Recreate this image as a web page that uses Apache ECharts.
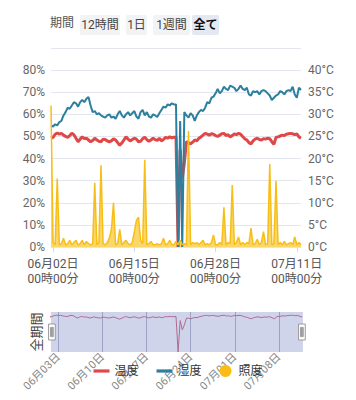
<!DOCTYPE html>
<html>
<head>
<meta charset="utf-8">
<script src="https://cdn.jsdelivr.net/npm/echarts@6/dist/echarts.min.js"></script>
<style>
html,body{margin:0;padding:0;background:#fff;}
#chart{width:356px;height:400px;}
</style>
</head>
<body>
<div id="chart"></div>
<script>
// ---- data (8-hour samples starting 2023-06-01 16:00) ----
const startTime = Date.UTC(2023, 5, 1, 16, 0, 0);
const stepHours = 8;
const axisStart = Date.UTC(2023, 5, 1, 16, 0, 0);
const axisEnd = Date.UTC(2023, 6, 11, 16, 0, 0);

const temperature = [
  24.6,24.8,25.5,25.8,25.5,25.7,25.3,25.0,24.8,25.2,
  25.7,25.4,24.6,23.8,24.4,24.9,24.5,24.6,24.2,23.8,
  24.1,24.6,24.2,23.9,23.8,24.4,24.3,24.0,23.8,24.0,
  24.5,24.2,23.6,23.0,23.5,24.2,24.9,24.4,24.0,24.3,
  24.6,24.4,23.8,23.9,24.5,24.8,24.3,23.9,24.2,24.6,
  24.3,24.1,24.6,24.0,24.3,24.8,24.6,24.9,24.7,24.8,
  24.8,0,22.0,15.5,19.0,23.8,23.6,23.3,23.7,24.2,
  24.0,24.6,24.9,25.3,25.7,25.5,25.3,25.6,25.5,25.2,
  25.0,25.3,25.6,25.7,25.2,25.4,24.9,25.2,25.6,25.4,
  25.7,25.5,25.0,24.5,24.2,23.6,23.3,24.0,24.4,24.6,
  24.3,24.2,24.5,24.4,24.6,24.5,23.8,23.2,24.8,24.9,
  25.1,25.3,25.2,25.5,25.6,25.7,25.6,25.4,25.6,24.9,
  24.6
];
const humidity = [
  55,54.5,55.5,55,56.5,57,59.5,61,63,62.5,
  64,65.5,65,63.5,65.5,66.5,65.5,67,67.8,64,
  61,61.5,60,60.5,59.5,59,58.5,59.5,60,58.5,
  59,58,60,61.5,59.5,58.5,60,61,59.5,60.5,
  61.5,59,58,61,62,59.5,61,59,58.5,60,
  59.5,58.8,60.5,62,63.5,63,64.5,64,65,64.5,
  64.5,0,57,0,61,59.5,58.5,60.5,59.5,57,
  59.5,61,62,61.5,63,65.5,65,67.5,68,69.5,
  71.5,69.5,70.5,72.5,71.5,71,73,72.5,72,70.5,
  71.5,73,71.5,71,72,69,68.5,70.5,70,70.5,
  69,70.5,71,70.5,69.5,68.5,66.5,67.5,68.5,69,
  70.5,70,69,70.5,71,70.5,72.5,69,67.5,72,
  71
];
const illuminance = [
  64,2,1,31,1,1.5,4,1,1.5,3,
  1,2,3,1,1.5,3,1,2.5,1.5,1,
  1.5,29,1,2,37,1.5,1,2,4,8,
  20,1,1.5,8,1,2,3,1.5,1,2,
  7,12,13.5,3,1.5,39.5,1,1.5,2.5,1,
  1,1.5,1,1.5,4,1,1.5,3,1,1,
  2.5,1,3,1,1.5,1,52.5,1,2,1.5,
  2,1,2,3,1,1.5,1,2,5.5,1,
  1,2,1,18,1,2,1.5,28,1,2,
  4.5,1,2,1,2,1.5,8.5,1,1.5,3.5,
  1,2,7,1,1.5,37.5,1,1.5,30,1,
  2,1,2.5,1,1.5,2,1,4.5,1,2,
  1
];
const mainTickDates = [Date.UTC(2023,5,2), Date.UTC(2023,5,15), Date.UTC(2023,5,28), Date.UTC(2023,6,11)];
const sliderTickDates = [Date.UTC(2023,5,3), Date.UTC(2023,5,10), Date.UTC(2023,5,17), Date.UTC(2023,5,24), Date.UTC(2023,6,1), Date.UTC(2023,6,8)];
const legendNames = ['温度', '湿度', '照度'];
const rangeButtons = ['12時間', '1日', '1週間', '全て'];

// ---- build ----
function pairs(arr){ return arr.map((v,i)=>[startTime + i*stepHours*3600*1000, v]); }
function pad(n){ return (n<10?'0':'')+n; }
function fmtMain(v){ const d=new Date(v); return pad(d.getUTCMonth()+1)+'月'+pad(d.getUTCDate())+'日\n'+pad(d.getUTCHours())+'時'+pad(d.getUTCMinutes())+'分'; }
function fmtDay(v){ const d=new Date(v); return pad(d.getUTCMonth()+1)+'月'+pad(d.getUTCDate())+'日'; }

const FONT = "Roboto, 'Noto Sans CJK JP', sans-serif";
const chart = echarts.init(document.getElementById('chart'), null, {renderer:'svg'});

const btnGeom = [[80,40],[126,21],[153,37],[192,27]];
const graphics = [{type:'text', left:50, top:17, style:{text:'期間', fill:'#555', font:'12px '+FONT}}];
rangeButtons.forEach((t,i)=>{
  const [x,w] = btnGeom[i];
  const active = i===rangeButtons.length-1;
  graphics.push({type:'rect', shape:{x:x,y:15,width:w,height:20,r:2}, style:{fill: active?'#e3e8f2':'#f2f3f5'}});
  graphics.push({type:'text', x:x+w/2, y:25, style:{text:t, fill: active?'#111':'#444', font:(active?'bold ':'')+'12px '+FONT, align:'center', verticalAlign:'middle'}});
});

const LINE_ICON = 'path://M0,0L20,0L20,4L0,4Z';

const option = {
  animation:false,
  textStyle:{fontFamily:FONT},
  graphic: graphics,
  legend:{
    bottom:18, left:'center', itemGap:18, itemWidth:16, itemHeight:12,
    symbolKeepAspect:true,
    textStyle:{fontSize:12, color:'#333'},
    data:[{name:legendNames[0], icon:LINE_ICON},{name:legendNames[1], icon:LINE_ICON},{name:legendNames[2], icon:'circle'}]
  },
  grid:[
    {left:51, right:55, top:48, bottom:153, outerBoundsMode:'none'},
    {left:50, right:54, top:312, height:40, outerBoundsMode:'none'}
  ],
  xAxis:[
    {type:'value', gridIndex:0, min:axisStart, max:axisEnd, scale:true,
     axisLine:{show:true, lineStyle:{color:'#e0e6f1'}},
     axisTick:{show:true, length:5, lineStyle:{color:'#d3dae8'}, customValues:mainTickDates},
     splitLine:{show:false},
     axisLabel:{customValues:mainTickDates, formatter:fmtMain, color:'#555', fontSize:12, lineHeight:15, margin:9, hideOverlap:false}},
    {type:'value', gridIndex:1, min:axisStart, max:axisEnd, scale:true,
     axisLine:{show:false}, axisTick:{show:false, customValues:sliderTickDates},
     splitLine:{show:true, lineStyle:{color:'#9ea4ba', width:1}, customValues:sliderTickDates},
     axisLabel:{customValues:sliderTickDates, formatter:fmtDay, rotate:45, color:'#888', fontSize:11, margin:3, hideOverlap:false}}
  ],
  yAxis:[
    {type:'value', gridIndex:0, min:0, max:90, interval:10,
     axisLabel:{formatter:'{value}%', color:'#666', fontSize:12, margin:6, showMaxLabel:false},
     splitLine:{lineStyle:{color:'#e3e6ee'}}, axisLine:{show:false}, axisTick:{show:false}},
    {type:'value', gridIndex:0, min:0, max:45, interval:5, position:'right',
     axisLabel:{formatter:'{value}°C', color:'#666', fontSize:12, margin:7, showMaxLabel:false},
     splitLine:{show:false}, axisLine:{show:false}, axisTick:{show:false}},
    {type:'value', gridIndex:1, min:0, max:28,
     name:'全期間', nameLocation:'middle', nameRotate:90, nameGap:7,
     nameTextStyle:{fontSize:13, color:'#444'},
     axisLabel:{show:false}, splitLine:{show:false}, axisLine:{show:false}, axisTick:{show:false}}
  ],
  dataZoom:[{
    type:'slider', xAxisIndex:[0], filterMode:'none', start:0, end:100,
    left:50, right:54, top:312, height:40,
    showDetail:false, showDataShadow:false, brushSelect:false,
    backgroundColor:'rgba(0,0,0,0)', borderColor:'rgba(0,0,0,0)',
    fillerColor:'rgba(150,160,210,0.45)',
    handleIcon:'path://M0,0L10,0L10,24L0,24Z M3,5L3,19L4.5,19L4.5,5Z M5.5,5L5.5,19L7,19L7,5Z',
    handleSize:16,
    handleStyle:{color:'#fff', borderColor:'#999', borderWidth:1},
    emphasis:{handleStyle:{color:'#fff', borderColor:'#999'}}
  }],
  series:[
    {name:legendNames[0], type:'line', xAxisIndex:0, yAxisIndex:1, data:pairs(temperature),
     symbol:'none', lineStyle:{width:3, color:'#e04848'}, itemStyle:{color:'#e04848'}},
    {name:legendNames[1], type:'line', xAxisIndex:0, yAxisIndex:0, data:pairs(humidity),
     symbol:'none', lineStyle:{width:2, color:'#2c7f9f'}, itemStyle:{color:'#2c7f9f'}},
    {name:legendNames[2], type:'line', xAxisIndex:0, yAxisIndex:0, data:pairs(illuminance),
     symbol:'circle', showSymbol:false, lineStyle:{width:1.5, color:'#f7be18'}, itemStyle:{color:'#fbbd14'},
     areaStyle:{color:'#f9c93a', opacity:0.75}},
    {name:'全期間温度', type:'line', xAxisIndex:1, yAxisIndex:2, data:pairs(temperature),
     symbol:'none', lineStyle:{width:1, color:'#c0405a'}, itemStyle:{color:'#c0405a'}, silent:true}
  ]
};
chart.setOption(option);
</script>
</body>
</html>
